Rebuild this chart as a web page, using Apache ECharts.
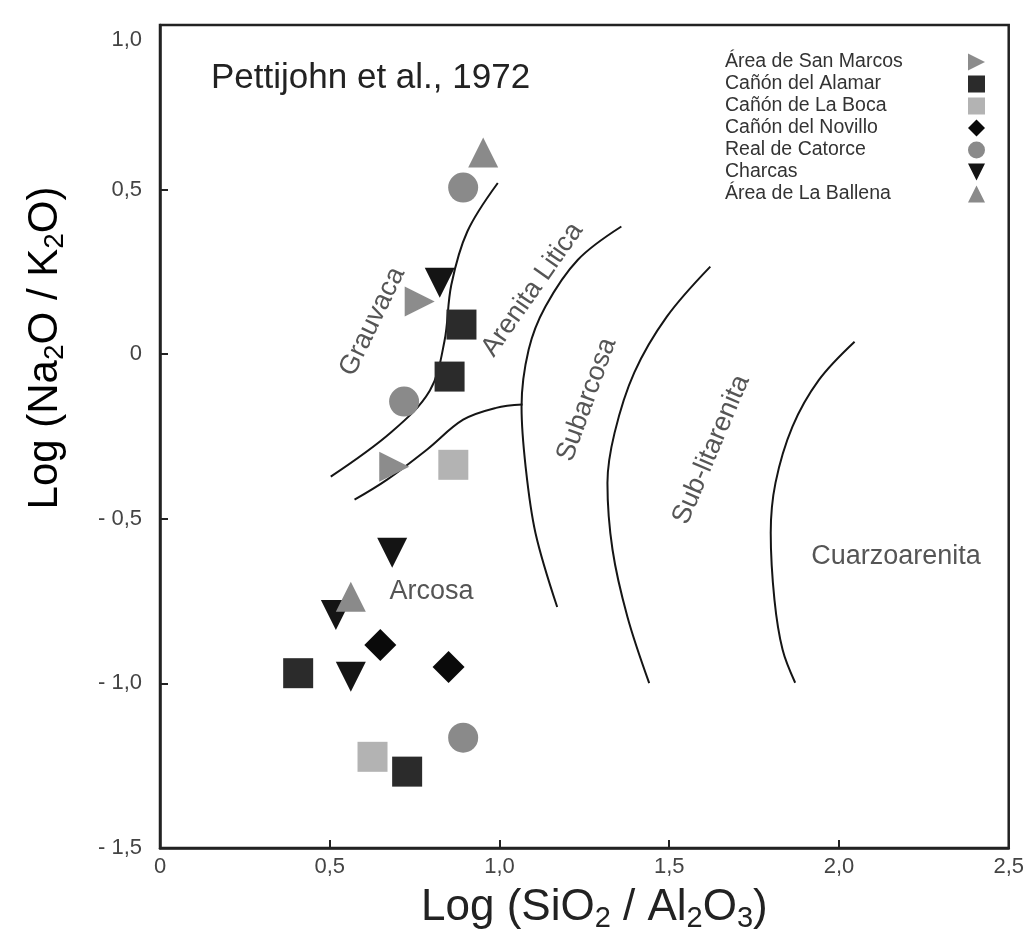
<!DOCTYPE html>
<html>
<head>
<meta charset="utf-8">
<script src="https://cdn.jsdelivr.net/npm/echarts@6/dist/echarts.min.js"></script>
<style>
html,body{margin:0;padding:0;background:#fff;}
#chart{width:1027px;height:942px;}
</style>
</head>
<body>
<div id="chart"></div>
<script>
// ---- data ----
const xTickLabels = ['0', '0,5', '1,0', '1,5', '2,0', '2,5'];
const yTickLabels = ['- 1,5', '- 1,0', '- 0,5', '0', '0,5', '1,0'];

const seriesNames = ['Área de San Marcos', 'Cañón del Alamar', 'Cañón de La Boca', 'Cañón del Novillo', 'Real de Catorce', 'Charcas', 'Área de La Ballena'];
const sanMarcos = [[0.765, 0.160], [0.690, -0.342]];
const alamar = [[0.888, 0.090], [0.853, -0.068], [0.407, -0.969], [0.728, -1.268]];
const laBoca = [[0.864, -0.336], [0.626, -1.223]];
const novillo = [[0.649, -0.883], [0.850, -0.950]];
const catorce = [[0.893, 0.506], [0.719, -0.144], [0.893, -1.165]];
const charcas = [[0.824, 0.217], [0.684, -0.603], [0.518, -0.792], [0.562, -0.980]];
const ballena = [[0.952, 0.613], [0.562, -0.737]];

// field boundary curves
const curveGrauvaca = [[0.503, -0.372], [0.680, -0.238], [0.795, -0.110], [0.838, 0.040], [0.858, 0.210], [0.905, 0.372], [0.995, 0.520]];
const curveArcosa = [[0.573, -0.442], [0.669, -0.381], [0.786, -0.290], [0.893, -0.199], [0.990, -0.163], [1.068, -0.153]];
const curveLitica = [[1.359, 0.388], [1.231, 0.287], [1.135, 0.144], [1.086, 0.014], [1.065, -0.160], [1.077, -0.342], [1.106, -0.543], [1.170, -0.768]];
const curveSubarcosa = [[1.621, 0.266], [1.493, 0.114], [1.397, -0.056], [1.339, -0.239], [1.318, -0.391], [1.333, -0.594], [1.377, -0.798], [1.441, -0.999]];
const curveSublitarenita = [[2.046, 0.038], [1.941, -0.078], [1.863, -0.220], [1.813, -0.391], [1.799, -0.543], [1.810, -0.746], [1.834, -0.898], [1.871, -0.998]];

const regionNames = ['Grauvaca', 'Arenita Litica', 'Subarcosa', 'Sub-litarenita', 'Cuarzoarenita', 'Arcosa'];
const regionPos = [[0.626, 0.099], [1.097, 0.196], [1.257, -0.138], [1.624, -0.290], [2.168, -0.616], [0.800, -0.722]];
const regionRotate = [64, 55, 70, 67, 0, 0];

// ---- chart ----
const FONT = '"Liberation Sans", Arial, sans-serif';
const chart = echarts.init(document.getElementById('chart'), null, {renderer: 'canvas'});

const subRichX = {
  m: {fontSize: 44, fontFamily: FONT, color: '#222', lineHeight: 50},
  s: {fontSize: 29, fontFamily: FONT, color: '#222', lineHeight: 29, verticalAlign: 'bottom'}
};
const subRichY = {
  m: {fontSize: 42, fontFamily: FONT, color: '#222', lineHeight: 48},
  s: {fontSize: 28, fontFamily: FONT, color: '#222', lineHeight: 28, verticalAlign: 'bottom'}
};

const markerDefs = [
  {data: sanMarcos, symbol: 'triangle', rotate: -90, color: '#8c8c8c', icon: 'path://M0,0L10,5L0,10Z'},
  {data: alamar, symbol: 'rect', rotate: 0, color: '#2b2b2b', icon: 'rect'},
  {data: laBoca, symbol: 'rect', rotate: 0, color: '#b3b3b3', icon: 'rect'},
  {data: novillo, symbol: 'diamond', rotate: 0, color: '#0a0a0a', icon: 'diamond'},
  {data: catorce, symbol: 'circle', rotate: 0, color: '#8a8a8a', icon: 'circle'},
  {data: charcas, symbol: 'triangle', rotate: 180, color: '#141414', icon: 'path://M0,0L10,0L5,10Z'},
  {data: ballena, symbol: 'triangle', rotate: 0, color: '#8a8a8a', icon: 'triangle'}
];

const curveStyle = {color: '#151515', width: 2};
const curves = [curveGrauvaca, curveArcosa, curveLitica, curveSubarcosa, curveSublitarenita];

const series = [];
curves.forEach(function (c) {
  series.push({
    type: 'line', data: c, smooth: 0.35, symbol: 'none', silent: true,
    lineStyle: curveStyle, z: 1
  });
});
markerDefs.forEach(function (d, i) {
  series.push({
    name: seriesNames[i], type: 'scatter', data: d.data, symbol: d.symbol,
    symbolRotate: d.rotate, symbolSize: d.symbol === 'diamond' ? 32 : 30,
    itemStyle: {color: d.color, opacity: 1}, z: 3, silent: true
  });
});
series.push({
  type: 'scatter', silent: true, symbolSize: 0, z: 2,
  data: regionNames.map(function (n, i) {
    return {name: n, value: regionPos[i], label: {rotate: regionRotate[i]}};
  }),
  label: {
    show: true, position: 'inside', formatter: '{b}', color: '#2a2a2a',
    fontFamily: FONT, fontSize: 27, align: 'center', verticalAlign: 'middle'
  }
});

chart.setOption({
  animation: false,
  backgroundColor: '#fff',
  title: {
    text: 'Pettijohn et al., 1972', left: 206, top: 56,
    textStyle: {fontFamily: FONT, fontSize: 35, fontWeight: 'normal', color: '#222'}
  },
  legend: {
    orient: 'vertical', left: 720, top: 47, align: 'right',
    itemWidth: 17, itemHeight: 17, itemGap: 2,
    data: seriesNames.map(function (n, i) { return {name: n, icon: markerDefs[i].icon}; }),
    formatter: function (n) { return '{t|' + n + '}'; },
    textStyle: {
      fontFamily: FONT, fontSize: 19.5, color: '#333',
      rich: {t: {width: 238, fontSize: 19.5, lineHeight: 19, align: 'left', fontFamily: FONT, color: '#333'}}
    }
  },
  grid: {left: 160, right: 8, top: 25, bottom: 94, show: true, borderColor: '#222', borderWidth: 2.5, backgroundColor: '#fff'},
  xAxis: {
    type: 'value', min: 0, max: 2.5, interval: 0.5,
    name: '{m|Log (SiO}{s|2}{m| / Al}{s|2}{m|O}{s|3}{m|)}',
    nameLocation: 'middle', nameGap: 35,
    nameTextStyle: {rich: subRichX, padding: [0, 0, 0, 20]},
    axisLine: {onZero: false, lineStyle: {color: '#222', width: 2.5}},
    axisTick: {inside: true, length: 8, lineStyle: {color: '#222', width: 2}},
    axisLabel: {
      margin: 8, fontFamily: FONT, fontSize: 22, color: '#444',
      formatter: function (v) { return xTickLabels[Math.round(v / 0.5)]; }
    },
    splitLine: {show: false}
  },
  yAxis: {
    type: 'value', min: -1.5, max: 1.0, interval: 0.5,
    axisLine: {onZero: false, lineStyle: {color: '#222', width: 2.5}},
    axisTick: {inside: true, length: 8, lineStyle: {color: '#222', width: 2}},
    axisLabel: {
      margin: 18, fontFamily: FONT, fontSize: 22, color: '#444',
      formatter: function (v) {
        const i = Math.round((v + 1.5) / 0.5);
        return i === yTickLabels.length - 1 ? '{top|' + yTickLabels[i] + '}' : yTickLabels[i];
      },
      rich: {top: {fontFamily: FONT, fontSize: 22, color: '#444', padding: [30, 0, 0, 0]}}
    },
    splitLine: {show: false}
  },
  graphic: [{
    type: 'text', x: 45, y: 348, rotation: Math.PI / 2,
    style: {
      text: '{m|Log (Na}{s|2}{m|O / K}{s|2}{m|O)}',
      rich: subRichY, align: 'center', verticalAlign: 'middle'
    }
  }],
  series: series
});
</script>
</body>
</html>
